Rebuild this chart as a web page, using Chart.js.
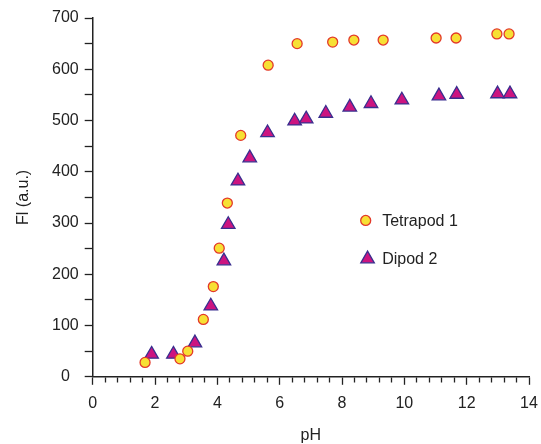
<!DOCTYPE html>
<html>
<head>
<meta charset="utf-8">
<script src="https://cdn.jsdelivr.net/npm/chart.js@4.4.1/dist/chart.umd.min.js"></script>
<style>
html,body{margin:0;padding:0;background:#fff;}
#wrap{width:541px;height:444px;}
</style>
</head>
<body>
<div id="wrap"><canvas id="c" width="541" height="444"></canvas></div>
<script>
const tetrapodPH = [1.68, 2.80, 3.05, 3.55, 3.87, 4.06, 4.32, 4.75, 5.63, 6.56, 7.70, 8.38, 9.32, 11.02, 11.66, 12.97, 13.36];
const tetrapodFI = [28, 35, 50, 112, 176, 251, 339, 471, 608, 650, 653, 657, 657, 661, 661, 669, 669];
const dipodPH = [1.89, 2.59, 3.28, 3.79, 4.21, 4.35, 4.66, 5.04, 5.61, 6.48, 6.85, 7.48, 8.25, 8.93, 9.92, 11.11, 11.68, 12.99, 13.39];
const dipodFI = [44, 44, 66, 138, 226, 297, 382, 427, 476, 499, 503, 514, 526, 533, 540, 548, 551, 552, 552];
const seriesNames = ["Tetrapod 1", "Dipod 2"];
const xTickLabels = [0, 2, 4, 6, 8, 10, 12, 14];
const yTickLabels = [0, 100, 200, 300, 400, 500, 600, 700];

const circleFill = '#f7e034', circleBorder = '#e3392a';
const triFill = '#cc1480', triBorder = '#3a2f8f';
const txt = '#222';
const font = "'Liberation Sans', Arial, sans-serif";

function pts(xs, ys){ return xs.map((x,i)=>({x:x, y:ys[i]})); }

const legendPlugin = {
  id: 'inlineLegend',
  afterDatasetsDraw(chart){
    const ctx = chart.ctx;
    const xs = chart.scales.x, ys = chart.scales.y;
    const items = [
      {ds: chart.data.datasets[0], x: 8.76, y: 305},
      {ds: chart.data.datasets[1], x: 8.82, y: 230}
    ];
    ctx.save();
    items.forEach(it => {
      const px = xs.getPixelForValue(it.x), py = ys.getPixelForValue(it.y);
      ctx.fillStyle = it.ds.backgroundColor;
      ctx.strokeStyle = it.ds.borderColor;
      ctx.lineWidth = it.ds.borderWidth;
      Chart.helpers.drawPoint(ctx, {pointStyle: it.ds.pointStyle, radius: it.ds.pointRadius, borderWidth: it.ds.borderWidth, rotation: 0}, px, py);
      ctx.fillStyle = txt;
      ctx.font = "16px " + font;
      ctx.textBaseline = 'middle';
      ctx.textAlign = 'left';
      ctx.fillText(it.ds.label, xs.getPixelForValue(8.76) + 16.5, py + 1);
    });
    ctx.restore();
  }
};

new Chart(document.getElementById('c'), {
  type: 'scatter',
  data: {
    datasets: [
      {label: seriesNames[0], data: pts(tetrapodPH, tetrapodFI), pointStyle: 'circle', pointRadius: 5, pointHoverRadius: 5,
       backgroundColor: circleFill, borderColor: circleBorder, borderWidth: 1.3},
      {label: seriesNames[1], data: pts(dipodPH, dipodFI), pointStyle: 'triangle', pointRadius: 7.8, pointHoverRadius: 7.8,
       backgroundColor: triFill, borderColor: triBorder, borderWidth: 1.3}
    ]
  },
  options: {
    responsive: false,
    animation: false,
    devicePixelRatio: 1,
    layout: {padding: {left: 16, right: 0, top: 18, bottom: 0}},
    plugins: {legend: {display: false}, tooltip: {enabled: false}},
    scales: {
      x: {
        type: 'linear', min: 0, max: 14,
        afterBuildTicks(scale){
          const t = [];
          for (let i = 0; i <= 35; i++) t.push({value: Math.round(i*0.4*10)/10});
          scale.ticks = t;
        },
        afterFit(scale){ scale.paddingRight = 12; },
        ticks: {
          autoSkip: false, maxRotation: 0, color: txt, font: {size: 16, family: font}, padding: 9,
          callback: (v) => xTickLabels.includes(v) ? String(v) : ''
        },
        grid: {
          drawOnChartArea: false, tickLength: 8, tickColor: txt, tickWidth: 1.3,
          tickBorderDash: (c) => (c.tick && xTickLabels.includes(c.tick.value)) ? [] : [5, 20]
        },
        border: {color: txt, width: 1.5},
        title: {display: true, text: 'pH', color: txt, font: {size: 16, family: font, lineHeight: 1}, padding: {top: 6, bottom: 0}}
      },
      y: {
        type: 'linear', min: 0, max: 700,
        afterBuildTicks(scale){
          const t = [];
          for (let v = 0; v <= 700; v += 50) t.push({value: v});
          scale.ticks = t;
        },
        ticks: {
          autoSkip: false, color: txt, font: {size: 16, family: font}, padding: 6, crossAlign: 'center',
          callback: (v) => yTickLabels.includes(v) ? String(v) : ''
        },
        grid: {drawOnChartArea: false, tickLength: 8, tickColor: txt, tickWidth: 1.3},
        border: {color: txt, width: 1.5},
        title: {display: true, text: 'Fl (a.u.)', color: txt, font: {size: 16, family: font, lineHeight: 1}, padding: {top: 0, bottom: 14}}
      }
    }
  },
  plugins: [legendPlugin]
});
</script>
</body>
</html>
